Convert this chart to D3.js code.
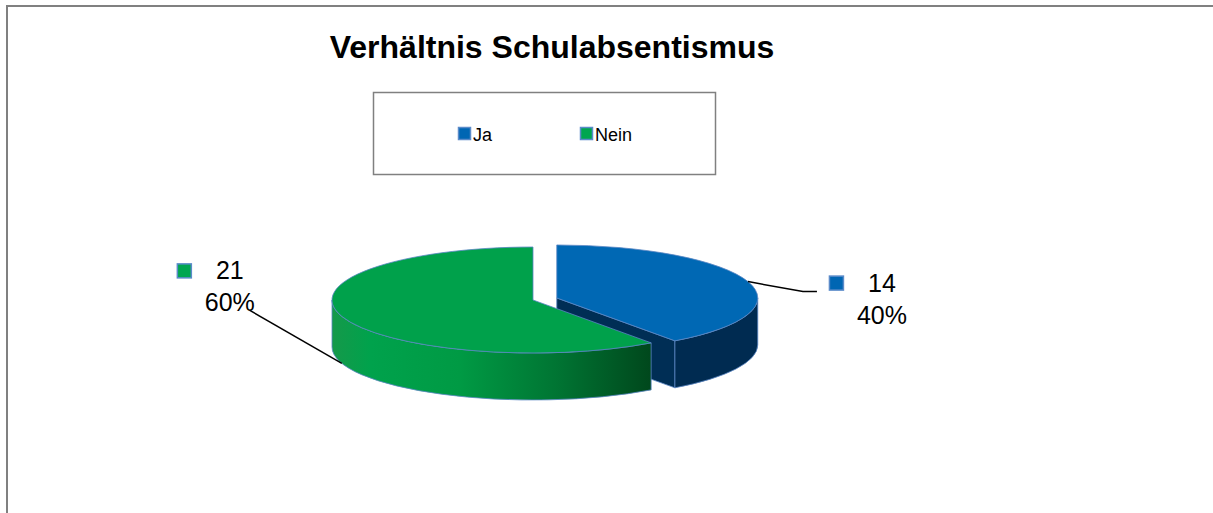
<!DOCTYPE html>
<html>
<head>
  <meta charset="utf-8">
  <style>
    html, body { margin: 0; padding: 0; overflow: hidden; background: #fff; }
    svg { display: block; font-family: "Liberation Sans", Arial, sans-serif; }
  </style>
</head>
<body>
  <svg></svg>
  <script src="https://d3js.org/d3.v7.min.js"></script>
  <script>
    // chart data
    const categories = ["Ja", "Nein"];
    const counts = [14, 21];
    const percents = ["40%", "60%"];
    const titleText = "Verhältnis Schulabsentismus";

    const topColors = ["#0068b4", "#00a14b"];
    const markerColors = ["#0066b3", "#00a650"];

    let width = 1213, height = 513;

    let svg = d3.select("svg")
        .attr("width", width)
        .attr("height", height)
        .attr("viewBox", "0 0 " + width + " " + height);

    // outer frame: only the top and left edges are inside the picture
    svg.append("path")
        .attr("d", "M7," + height + "V6H" + width)
        .attr("fill", "none")
        .attr("stroke", "#808080")
        .attr("stroke-width", 2);

    // title
    svg.append("text")
        .attr("x", 552).attr("y", 58)
        .attr("text-anchor", "middle")
        .style("font-weight", "bold")
        .style("font-size", "32px")
        .text(titleText);

    // legend box
    svg.append("rect")
        .attr("x", 373.5).attr("y", 92.5)
        .attr("width", 342).attr("height", 82)
        .attr("fill", "#fff")
        .attr("stroke", "#808080")
        .attr("stroke-width", 1.5);

    let legendX = d3.scalePoint().domain(categories).range([458, 580]);
    let legendItem = svg.append("g").selectAll("g")
        .data(categories)
        .enter().append("g")
        .attr("transform", d => "translate(" + legendX(d) + ",127)");
    legendItem.append("rect")
        .attr("x", 0.5).attr("y", 0.5).attr("width", 12).attr("height", 12)
        .attr("fill", (d, i) => markerColors[i])
        .attr("stroke", "#5b8bc9").attr("stroke-width", 1.5);
    legendItem.append("text")
        .attr("x", 15).attr("y", 13.5)
        .style("font-size", "18px")
        .text(d => d);

    // 3d pie
    const rx = 201, ry = 53, depth = 47;
    const cx = 533, cy = 300;
    const explode = [25, 0];

    let pie = d3.pie().sort(null).value(d => d);
    let arcs = pie(counts);

    const pt = (c, a, dy) => [c[0] + rx * Math.sin(a), c[1] - ry * Math.cos(a) + (dy || 0)];

    arcs.forEach((d, i) => {
      let mid = (d.startAngle + d.endAngle) / 2;
      d.center = [cx + explode[i] * Math.sin(mid), cy - explode[i] * Math.cos(mid) * ry / rx];
      d.mid = mid;
    });

    let defs = svg.append("defs");
    let gGreen = defs.append("linearGradient")
        .attr("id", "wallGreen")
        .attr("gradientUnits", "userSpaceOnUse")
        .attr("x1", cx - rx).attr("x2", 652).attr("y1", 0).attr("y2", 0);
    [[0, "#15994a"], [0.12, "#00a24c"], [0.4, "#009a44"], [0.7, "#007533"], [1, "#00471c"]]
      .forEach(s => gGreen.append("stop").attr("offset", s[0]).attr("stop-color", s[1]));

    const wallFill = ["#002b51", "url(#wallGreen)"];
    const sideFill = ["#002e55", "#00471c"];
    const edge = "#5a86c4";

    let pieG = svg.append("g");

    arcs.forEach((d, i) => {
      let g = pieG.append("g");
      let c = d.center;

      // radial face at end angle
      if (Math.sin(d.endAngle) > 0.01) {
        let e = pt(c, d.endAngle);
        g.append("path")
          .attr("d", "M" + c + "L" + e + "L" + [e[0], e[1] + depth] + "L" + [c[0], c[1] + depth] + "Z")
          .attr("fill", sideFill[i]).attr("stroke", edge).attr("stroke-width", 0.8);
      }
      // radial face at start angle
      if (Math.sin(d.startAngle) < -0.01) {
        let s = pt(c, d.startAngle);
        g.append("path")
          .attr("d", "M" + c + "L" + s + "L" + [s[0], s[1] + depth] + "L" + [c[0], c[1] + depth] + "Z")
          .attr("fill", sideFill[i]).attr("stroke", edge).attr("stroke-width", 0.8);
      }

      // outer wall, front half only
      let s = Math.max(d.startAngle, Math.PI / 2);
      let e = Math.min(d.endAngle, Math.PI * 3 / 2);
      if (e > s) {
        let p0 = pt(c, s), p1 = pt(c, e);
        let large = (e - s) > Math.PI ? 1 : 0;
        g.append("path")
          .attr("d", "M" + p0 + "A" + rx + "," + ry + " 0 " + large + " 1 " + p1 +
                "L" + [p1[0], p1[1] + depth] +
                "A" + rx + "," + ry + " 0 " + large + " 0 " + [p0[0], p0[1] + depth] + "Z")
          .attr("fill", wallFill[i]).attr("stroke", edge).attr("stroke-width", 0.8);
      }

      // top face with d3.arc squashed into an ellipse
      g.append("g")
        .attr("transform", "translate(" + c + ") scale(1," + (ry / rx) + ")")
        .append("path")
        .attr("d", d3.arc().innerRadius(0).outerRadius(rx)(d))
        .attr("fill", topColors[i])
        .attr("stroke", edge).attr("stroke-width", 0.8)
        .attr("vector-effect", "non-scaling-stroke");
    });

    // data labels
    let labelG = svg.append("g");
    arcs.forEach((d, i) => {
      let front = Math.cos(d.mid) < -0.2;
      let p = pt(d.center, d.mid, front ? depth : 0);
      let right = Math.sin(d.mid) > 0;
      let line, box;
      if (right) {
        line = [p, [p[0] + 55, p[1] + 10], [p[0] + 69, p[1] + 10]];
        box = [p[0] + 81, p[1] - 6];
      } else {
        line = [p, [p[0] - 92, p[1] - 53]];
        box = [p[0] - 165, p[1] - 100];
      }
      labelG.append("path")
        .attr("d", d3.line()(line))
        .attr("fill", "none").attr("stroke", "#000").attr("stroke-width", 1.5);

      let lg = labelG.append("g").attr("transform", "translate(" + box + ")");
      lg.append("rect")
        .attr("x", 0.5).attr("y", 0.5).attr("width", 14).attr("height", 14)
        .attr("fill", markerColors[i])
        .attr("stroke", "#5b8bc9").attr("stroke-width", 1.5);
      lg.append("text")
        .attr("x", 53).attr("y", 16)
        .attr("text-anchor", "middle")
        .style("font-size", "25px")
        .text(counts[i]);
      lg.append("text")
        .attr("x", 53).attr("y", 48)
        .attr("text-anchor", "middle")
        .style("font-size", "25px")
        .text(percents[i]);
    });
  </script>
</body>
</html>
